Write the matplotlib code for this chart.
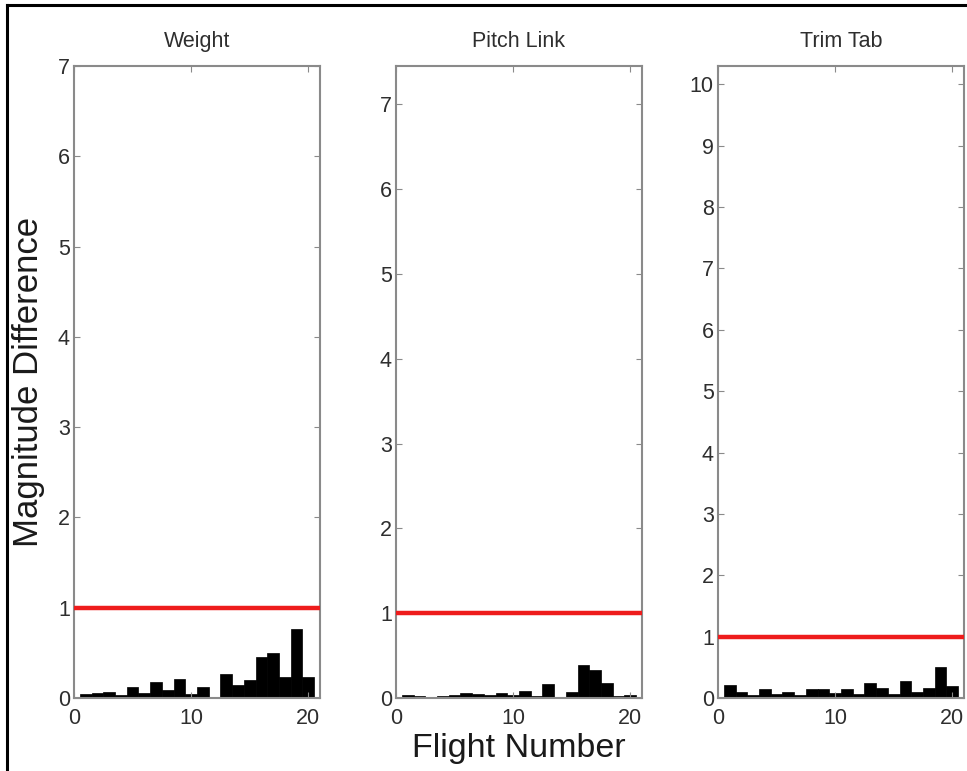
import matplotlib
matplotlib.use("Agg")
import matplotlib.pyplot as plt
from matplotlib.lines import Line2D

plt.rcParams['font.family'] = ['Liberation Sans', 'DejaVu Sans']

flights = list(range(1, 21))
weight = [0.04, 0.06, 0.07, 0.03, 0.12, 0.05, 0.18, 0.09, 0.21, 0.045,
          0.12, 0.015, 0.27, 0.14, 0.20, 0.45, 0.50, 0.23, 0.76, 0.23]
pitch_link = [0.04, 0.02, 0.005, 0.02, 0.035, 0.055, 0.045, 0.04, 0.06, 0.035,
              0.08, 0.02, 0.16, 0.01, 0.065, 0.39, 0.33, 0.18, 0.02, 0.03]
trim_tab = [0.21, 0.09, 0.05, 0.15, 0.065, 0.09, 0.05, 0.15, 0.15, 0.08,
            0.15, 0.065, 0.24, 0.17, 0.065, 0.28, 0.10, 0.16, 0.50, 0.20]
threshold = 1.0

titles = ["Weight", "Pitch Link", "Trim Tab"]
series = [weight, pitch_link, trim_tab]
ylims = [7.0, 7.45, 10.3]
yticks = [range(0, 8), range(0, 8), range(0, 11)]
xticks = [0, 10, 20]

W, H = 967, 771
fig = plt.figure(figsize=(W / 100, H / 100), dpi=100)

lefts = [74, 396, 718]
ax_w, ax_top, ax_bot = 246, 66, 698
spine_col = "#8a8a8a"
text_col = "#2e2e2e"

axes = []
for left, title, vals, ytop, yt in zip(lefts, titles, series, ylims, yticks):
    ax = fig.add_axes([left / W, (H - ax_bot) / H, ax_w / W, (ax_bot - ax_top) / H])
    ax.bar(flights, vals, width=1.0, color="black", edgecolor="black", linewidth=0.5)
    ax.axhline(threshold, color="#ee1c1c", linewidth=3.2, zorder=3)
    ax.set_xlim(0, 21)
    ax.set_ylim(0, ytop)
    ax.set_xticks(xticks)
    ax.set_yticks(list(yt))
    ax.tick_params(direction="in", length=4, width=0.8, color=spine_col,
                   top=True, right=True, labelsize=15.5, labelcolor=text_col)
    ax.tick_params(axis="x", pad=7)
    ax.tick_params(axis="y", pad=3)
    for sp in ax.spines.values():
        sp.set_color(spine_col)
        sp.set_linewidth(1.5)
    ax.set_title(title, fontsize=15.5, color=text_col, pad=14)
    axes.append(ax)

axes[0].set_ylabel("Magnitude Difference", fontsize=25, color="#1a1a1a", labelpad=9)
axes[1].set_xlabel("Flight Number", fontsize=24.5, color="#1a1a1a", labelpad=3)

# outer frame (left and top edges visible)
fig.add_artist(Line2D([7 / W, 7 / W], [0, 1 - 5 / H], transform=fig.transFigure,
                      color="black", linewidth=2.2))
fig.add_artist(Line2D([7 / W, 1], [1 - 5 / H, 1 - 5 / H], transform=fig.transFigure,
                      color="black", linewidth=2.2))

fig.savefig("out.png", dpi=100, facecolor="white")
